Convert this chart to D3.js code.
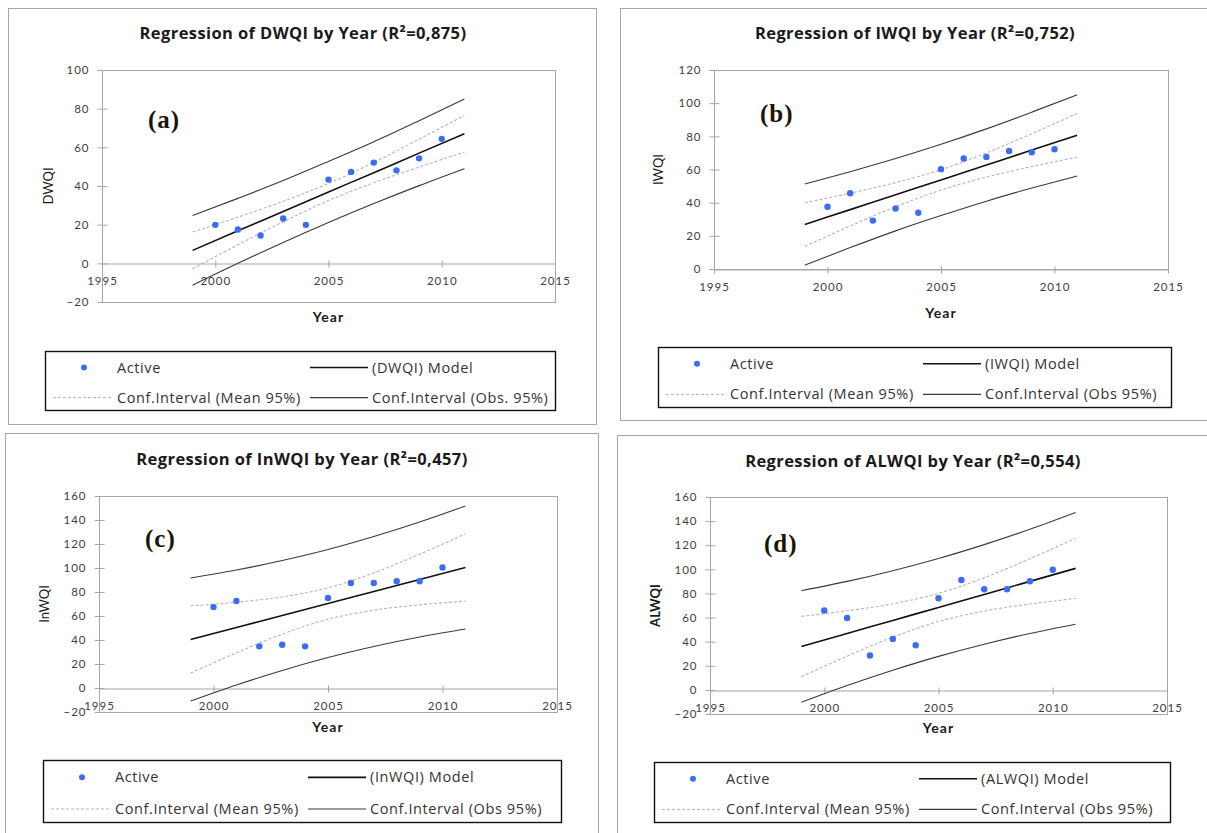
<!DOCTYPE html>
<html>
<head>
<meta charset="utf-8">
<script src="https://cdn.jsdelivr.net/npm/d3@7"></script>
<style>
    body { margin: 0; background: #fff; }
    svg { display: block; font-family: Lato, "Open Sans", sans-serif; }
</style>
</head>
<body>
<svg id="chart" width="1207" height="833"></svg>
<script>
// observed values, one per year
const years = [2000, 2001, 2002, 2003, 2004, 2005, 2006, 2007, 2008, 2009, 2010];
const dwqi  = [19.9, 17.5, 14.4, 23.2, 19.9, 43.3, 47.3, 52.1, 48.1, 54.3, 64.4];
const iwqi  = [37.5, 45.7, 29.2, 36.5, 33.9, 60.2, 66.6, 67.6, 71.2, 70.4, 72.2];
const inwqi = [67.4, 72.6, 34.7, 36.1, 34.7, 75.1, 87.6, 87.6, 89.0, 89.0, 100.4];
const alwqi = [65.8, 59.7, 28.5, 42.3, 37.0, 76.0, 91.2, 83.5, 83.5, 90.1, 99.7];

// model line and confidence bands
const fitYears = [1999, 2001, 2003, 2005, 2007, 2009, 2011];

const dwqiModel  = [6.7, 16.8, 26.8, 36.9, 46.9, 57.0, 67.0];
const dwqiMeanUp = [16.2, 23.9, 32.1, 41.3, 52.2, 64.2, 76.5];
const dwqiMeanLo = [-2.8, 9.6, 21.5, 32.5, 41.7, 49.8, 57.5];
const dwqiObsUp  = [24.7, 33.6, 42.8, 52.7, 62.9, 73.8, 85.0];
const dwqiObsLo  = [-11.3, 0.0, 10.8, 21.1, 30.9, 40.2, 49.0];

const iwqiModel  = [26.8, 35.8, 44.8, 53.7, 62.7, 71.7, 80.6];
const iwqiMeanUp = [40.0, 45.7, 52.1, 59.9, 70.0, 81.6, 93.8];
const iwqiMeanLo = [13.6, 25.9, 37.5, 47.6, 55.4, 61.8, 67.4];
const iwqiObsUp  = [51.3, 58.7, 66.6, 75.2, 84.5, 94.6, 105.1];
const iwqiObsLo  = [2.3, 12.9, 23.0, 32.2, 40.9, 48.8, 56.1];

const inwqiModel  = [40.4, 50.4, 60.4, 70.4, 80.4, 90.4, 100.4];
const inwqiMeanUp = [68.4, 71.5, 75.9, 83.5, 95.9, 111.5, 128.4];
const inwqiMeanLo = [12.4, 29.3, 44.9, 57.3, 64.9, 69.3, 72.4];
const inwqiObsUp  = [91.7, 98.3, 106.2, 115.4, 126.2, 138.3, 151.7];
const inwqiObsLo  = [-10.9, 2.5, 14.6, 25.4, 34.6, 42.5, 49.1];

const alwqiModel  = [36.0, 46.8, 57.6, 68.4, 79.2, 90.0, 100.8];
const alwqiMeanUp = [61.0, 65.6, 71.4, 80.1, 93.0, 108.8, 125.8];
const alwqiMeanLo = [11.0, 28.0, 43.8, 56.7, 65.4, 71.2, 75.8];
const alwqiObsUp  = [82.3, 90.0, 98.9, 109.0, 120.5, 133.2, 147.1];
const alwqiObsLo  = [-10.3, 3.6, 16.3, 27.8, 37.9, 46.8, 54.5];

// ticks
const xTicks = [1995, 2000, 2005, 2010, 2015];
const yTicksA = [-20, 0, 20, 40, 60, 80, 100];
const yTicksB = [0, 20, 40, 60, 80, 100, 120];
const yTicksC = [-20, 0, 20, 40, 60, 80, 100, 120, 140, 160];

const panels = [
    { tag: "(a)", name: "DWQI", r2: "0,875", obsLabel: "Conf.Interval (Obs. 95%)",
      values: dwqi, model: dwqiModel, meanUp: dwqiMeanUp, meanLo: dwqiMeanLo, obsUp: dwqiObsUp, obsLo: dwqiObsLo,
      yTicks: yTicksA, box: [8, 8, 588, 416], frame: [102, 555, 70, 302],
      titleX: 303, titleY: 39, tagPos: [148, 128], yTitleX: 48, xTitleY: 322, yBold: false,
      legend: [45, 351, 510, 59] },
    { tag: "(b)", name: "IWQI", r2: "0,752", obsLabel: "Conf.Interval (Obs 95%)",
      values: iwqi, model: iwqiModel, meanUp: iwqiMeanUp, meanLo: iwqiMeanLo, obsUp: iwqiObsUp, obsLo: iwqiObsLo,
      yTicks: yTicksB, box: [620, 8, 600, 412], frame: [714, 1168, 70, 269],
      titleX: 915, titleY: 39, tagPos: [760, 122], yTitleX: 658, xTitleY: 318, yBold: false,
      legend: [658, 347, 513, 60] },
    { tag: "(c)", name: "InWQI", r2: "0,457", obsLabel: "Conf.Interval (Obs 95%)",
      values: inwqi, model: inwqiModel, meanUp: inwqiMeanUp, meanLo: inwqiMeanLo, obsUp: inwqiObsUp, obsLo: inwqiObsLo,
      yTicks: yTicksC, box: [5, 433, 593, 420], frame: [99, 557, 496, 712],
      titleX: 302, titleY: 465, tagPos: [145, 547], yTitleX: 44, xTitleY: 732, yBold: false,
      legend: [43, 760, 518, 62] },
    { tag: "(d)", name: "ALWQI", r2: "0,554", obsLabel: "Conf.Interval (Obs 95%)",
      values: alwqi, model: alwqiModel, meanUp: alwqiMeanUp, meanLo: alwqiMeanLo, obsUp: alwqiObsUp, obsLo: alwqiObsLo,
      yTicks: yTicksC, box: [617, 435, 600, 420], frame: [710, 1167, 497, 714],
      titleX: 913, titleY: 467, tagPos: [764, 552], yTitleX: 655, xTitleY: 733, yBold: true,
      legend: [654, 762, 516, 60] }
];

const svg = d3.select("#chart");

function drawPanel(p)
{
    const g = svg.append("g");
    const [fx0, fx1, fy0, fy1] = p.frame;

    g.append("rect")
        .attr("x", p.box[0] + 0.5).attr("y", p.box[1] + 0.5)
        .attr("width", p.box[2]).attr("height", p.box[3])
        .attr("fill", "none").attr("stroke", "#a6a6a6");

    g.append("text")
        .attr("x", p.titleX).attr("y", p.titleY)
        .attr("text-anchor", "middle")
        .attr("font-family", "'Open Sans', sans-serif")
        .attr("font-size", 16.5).attr("font-weight", "bold").attr("fill", "#1a1a1a")
        .attr("letter-spacing", 0.4)
        .text(`Regression of ${p.name} by Year (R²=${p.r2})`);

    const x = d3.scaleLinear().domain([1995, 2015]).range([fx0, fx1]);
    const y = d3.scaleLinear().domain(d3.extent(p.yTicks)).range([fy1, fy0]);

    // plot frame
    g.append("rect")
        .attr("x", fx0 + 0.5).attr("y", fy0 + 0.5)
        .attr("width", fx1 - fx0).attr("height", fy1 - fy0)
        .attr("fill", "none").attr("stroke", "#a6a6a6");

    const yAxis = g.append("g")
        .attr("transform", `translate(${fx0 + 0.5},0)`)
        .call(d3.axisLeft(y).tickValues(p.yTicks).tickSize(5).tickPadding(8));
    yAxis.select(".domain").remove();
    yAxis.selectAll(".tick line").attr("x1", 5);

    const xAxis = g.append("g")
        .attr("transform", `translate(0,${Math.round(y(0)) + 0.5})`)
        .call(d3.axisBottom(x).tickValues(xTicks).tickSize(4).tickSizeOuter(0).tickPadding(9)
            .tickFormat(d3.format("d")));
    xAxis.selectAll(".tick line").attr("y1", -3);

    g.selectAll(".tick line, .domain").attr("stroke", "#a6a6a6");
    g.selectAll(".tick text").attr("fill", "#404040").attr("font-size", 11.5)
        .attr("letter-spacing", 1).attr("font-family", "Lato, sans-serif");

    g.append("text")
        .attr("transform", `translate(${p.yTitleX},${(fy0 + fy1) / 2}) rotate(-90)`)
        .attr("text-anchor", "middle").attr("dy", "0.35em")
        .attr("font-size", 13).attr("font-weight", p.yBold ? "bold" : "normal").attr("fill", "#1a1a1a")
        .text(p.name);

    g.append("text")
        .attr("x", x(2005)).attr("y", p.xTitleY)
        .attr("text-anchor", "middle")
        .attr("font-size", 14).attr("font-weight", "bold").attr("fill", "#1a1a1a")
        .attr("letter-spacing", 1)
        .text("Year");

    g.append("text")
        .attr("x", p.tagPos[0]).attr("y", p.tagPos[1])
        .attr("font-family", "'Liberation Serif', serif")
        .attr("font-size", 25).attr("font-weight", "bold").attr("fill", "#1c1408")
        .attr("letter-spacing", 1)
        .text(p.tag);

    const line = d3.line()
        .x((d, i) => x(fitYears[i]))
        .y(d => y(d))
        .curve(d3.curveMonotoneX);

    [p.obsUp, p.obsLo].forEach(s => g.append("path").attr("d", line(s))
        .attr("fill", "none").attr("stroke", "#3a3a3a").attr("stroke-width", 1.1));
    [p.meanUp, p.meanLo].forEach(s => g.append("path").attr("d", line(s))
        .attr("fill", "none").attr("stroke", "#b4b4b4").attr("stroke-width", 1.1)
        .attr("stroke-dasharray", "3,2"));
    g.append("path").attr("d", line(p.model))
        .attr("fill", "none").attr("stroke", "#111").attr("stroke-width", 1.6);

    g.selectAll("circle.pt")
        .data(p.values)
        .join("circle")
        .attr("class", "pt")
        .attr("cx", (d, i) => x(years[i]))
        .attr("cy", d => y(d))
        .attr("r", 3.2)
        .attr("fill", "#3b6cf6");

    drawLegend(g, p);
}

function drawLegend(g, p)
{
    const [lx, ly, lw, lh] = p.legend;
    const lg = g.append("g").attr("transform", `translate(${lx},${ly})`);
    const r1 = lh * 0.28, r2 = lh * 0.79;

    lg.append("rect")
        .attr("x", 0.5).attr("y", 0.5).attr("width", lw).attr("height", lh)
        .attr("fill", "#fff").attr("stroke", "#111").attr("stroke-width", 1.4);

    lg.append("circle").attr("cx", 39).attr("cy", r1).attr("r", 3).attr("fill", "#3b6cf6");
    lg.append("line").attr("x1", 265).attr("x2", 323).attr("y1", r1).attr("y2", r1)
        .attr("stroke", "#111").attr("stroke-width", 1.6);
    lg.append("line").attr("x1", 8).attr("x2", 68).attr("y1", r2).attr("y2", r2)
        .attr("stroke", "#b4b4b4").attr("stroke-width", 1).attr("stroke-dasharray", "3,2");
    lg.append("line").attr("x1", 265).attr("x2", 323).attr("y1", r2).attr("y2", r2)
        .attr("stroke", "#3a3a3a").attr("stroke-width", 1.1);

    const labels = [
        ["Active", 72, r1], [`(${p.name}) Model`, 327, r1],
        ["Conf.Interval (Mean 95%)", 72, r2], [p.obsLabel, 327, r2]
    ];
    lg.selectAll("text.lbl")
        .data(labels)
        .join("text")
        .attr("class", "lbl")
        .attr("x", d => d[1]).attr("y", d => d[2])
        .attr("dy", "0.35em")
        .attr("font-family", "'Open Sans', sans-serif")
        .attr("font-size", 14.5).attr("letter-spacing", 0.6).attr("fill", "#333")
        .text(d => d[0]);
}

panels.forEach(drawPanel);
</script>
</body>
</html>
